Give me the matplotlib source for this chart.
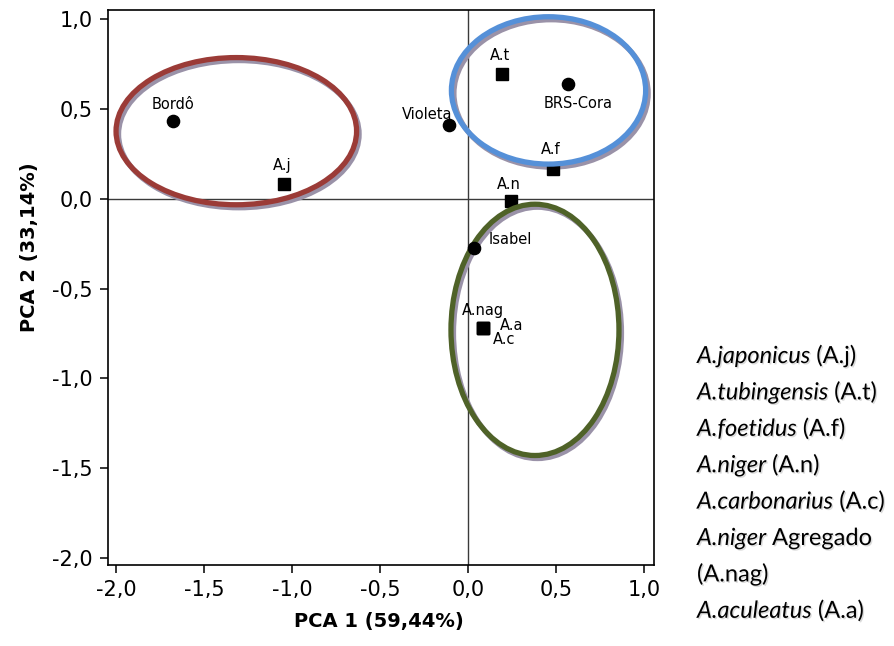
import matplotlib
matplotlib.use("Agg")
import matplotlib.pyplot as plt
from matplotlib.patches import Ellipse
from matplotlib import transforms
import matplotlib.patheffects as pe

# ---------------- data ----------------
cultivars = ["Bordô", "Violeta", "BRS-Cora", "Isabel"]
cult_x = [-1.675, -0.109, 0.565, 0.035]
cult_y = [0.433, 0.410, 0.640, -0.272]

species = ["A.j", "A.t", "A.f", "A.n", "A.nag", "A.a", "A.c"]
spec_x = [-1.045, 0.194, 0.483, 0.244, 0.082, 0.082, 0.082]
spec_y = [0.081, 0.694, 0.166, -0.012, -0.718, -0.718, -0.718]

ell_cx = [-1.317, 0.456, 0.379]
ell_cy = [0.377, 0.604, -0.73]
ell_w = [1.366, 1.103, 0.954]
ell_h = [0.820, 0.821, 1.40]
ell_colors = ["#9b3b37", "#5590d8", "#4f6228"]

xticks = [-2.0, -1.5, -1.0, -0.5, 0.0, 0.5, 1.0]
yticks = [-2.0, -1.5, -1.0, -0.5, 0.0, 0.5, 1.0]

legend_italic = ["A.japonicus", "A.tubingensis", "A.foetidus", "A.niger",
                 "A.carbonarius", "A.niger", "", "A.aculeatus"]
legend_regular = [" (A.j)", " (A.t)", " (A.f)", " (A.n)", " (A.c)",
                  " Agregado", "(A.nag)", " (A.a)"]

xlabel = "PCA 1 (59,44%)"
ylabel = "PCA 2 (33,14%)"

# ---------------- figure ----------------
W, H = 894, 646
fig = plt.figure(figsize=(W / 100, H / 100), dpi=100)
ax_l, ax_r, ax_t, ax_b = 108.3, 654.0, 10.0, 565.0
ax = fig.add_axes([ax_l / W, 1 - ax_b / H, (ax_r - ax_l) / W, (ax_b - ax_t) / H])
ax.set_xlim(-2.044, 1.055)
ax.set_ylim(-2.04, 1.052)

for s in ax.spines.values():
    s.set_linewidth(1.2)
    s.set_color("black")

ax.axhline(0, color="#3a3a3a", lw=1.0, zorder=1)
ax.axvline(0, color="#3a3a3a", lw=1.0, zorder=1)

fmt = lambda v: f"{v:.1f}".replace(".", ",")
ax.set_xticks(xticks)
ax.set_xticklabels([fmt(v) for v in xticks])
ax.set_yticks(yticks)
ax.set_yticklabels([fmt(v) for v in yticks])
ax.tick_params(direction="out", length=6, width=1.1, labelsize=15, pad=5,
               colors="black")
for lab in ax.get_xticklabels() + ax.get_yticklabels():
    lab.set_family("DejaVu Sans")

# ellipses with gray shadow
shadow_tr = transforms.offset_copy(ax.transData, fig=fig, x=2.5, y=-3, units="dots")
for cx, cy, w, h, c in zip(ell_cx, ell_cy, ell_w, ell_h, ell_colors):
    ax.add_patch(Ellipse((cx, cy), w, h, fill=False, ec="#9a92a8", lw=3.8,
                         transform=shadow_tr, zorder=2))
    ax.add_patch(Ellipse((cx, cy), w, h, fill=False, ec=c, lw=3.8, zorder=3))

# points
ax.plot(cult_x, cult_y, "o", color="black", ms=8.8, zorder=4, ls="none")
ax.plot(spec_x, spec_y, "s", color="black", ms=8.3, zorder=2.5, ls="none")

# labels (offsets in pixels)
lab_kw = dict(textcoords="offset pixels", fontsize=10.5, family="DejaVu Sans",
              zorder=5)
cult_off = [(0, 17, "center"), (3, 11, "right"), (10, -20, "center"),
            (14, 8, "left")]
for name, x, y, (dx, dy, ha) in zip(cultivars, cult_x, cult_y, cult_off):
    ax.annotate(name, (x, y), xytext=(dx, dy), ha=ha, va="center", **lab_kw)

spec_off = [(-2, 19, "center"), (-2, 19, "center"), (-3, 20, "center"),
            (-2, 16, "center"), (0, 17, "center"), (17, 2, "left"),
            (10, -12, "left")]
for name, x, y, (dx, dy, ha) in zip(species, spec_x, spec_y, spec_off):
    ax.annotate(name, (x, y), xytext=(dx, dy), ha=ha, va="center", **lab_kw)

# axis labels
fig.text(379 / W, 1 - 621 / H, xlabel, ha="center", va="center",
         fontsize=14, fontweight="bold", family="DejaVu Sans")
fig.text(30 / W, 1 - 247 / H, ylabel, ha="center", va="center", rotation=90,
         fontsize=14, fontweight="bold", family="DejaVu Sans")

# legend text block (italic species + regular abbreviation)
fig.canvas.draw()
renderer = fig.canvas.get_renderer()
shadow = [pe.withSimplePatchShadow(offset=(1, -1), shadow_rgbFace="#999999",
                                   alpha=0.35)]
leg_x = 697
leg_y0 = 363
leg_dy = 36.4
for i, (it, rg) in enumerate(zip(legend_italic, legend_regular)):
    yb = 1 - (leg_y0 + i * leg_dy) / H
    x = leg_x
    if it:
        t = fig.text(x / W, yb, it, fontsize=17, style="italic", family="Lato",
                     va="baseline", ha="left", path_effects=shadow)
        bb = t.get_window_extent(renderer)
        x = x + bb.width
    fig.text(x / W, yb, rg, fontsize=17, family="Lato", va="baseline",
             ha="left", path_effects=shadow)

fig.savefig("out.png", dpi=100)
